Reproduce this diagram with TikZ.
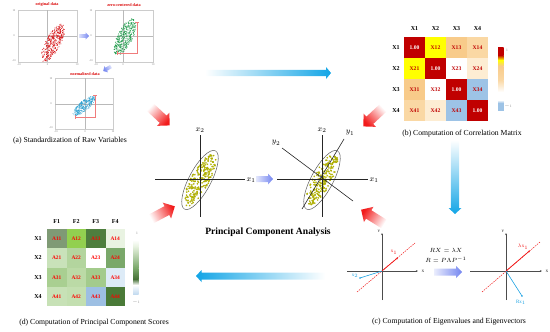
\documentclass[tikz,border=0pt]{standalone}
\usepackage{fontspec}
\setmainfont{Liberation Serif}
\usetikzlibrary{calc,arrows.meta}
\definecolor{cred}{HTML}{D7191C}
\definecolor{cgreen}{HTML}{1E9A4A}
\definecolor{cblue}{HTML}{2A9FD0}
\definecolor{dred}{HTML}{C00000}
\definecolor{ylw}{HTML}{FFFF00}
\definecolor{oraA}{HTML}{F8CB8A}
\definecolor{oraB}{HTML}{FAD8A4}
\definecolor{oraC}{HTML}{FDEDD3}
\definecolor{lblue}{HTML}{9DC3E6}
\definecolor{gA}{HTML}{7F9A75}
\definecolor{gB}{HTML}{92D050}
\definecolor{gC}{HTML}{4E7E3E}
\definecolor{gD}{HTML}{E9F3E2}
\definecolor{gE}{HTML}{C9E2BA}
\definecolor{gF}{HTML}{B3D59E}
\definecolor{gG}{HTML}{7AA86A}
\definecolor{gH}{HTML}{A9CF91}
\definecolor{gI}{HTML}{BBDAA6}
\definecolor{gJ}{HTML}{A3CB8C}
\definecolor{gK}{HTML}{DDEBF7}
\definecolor{gL}{HTML}{C7E1B6}
\definecolor{gM}{HTML}{C3DFB0}
\definecolor{gN}{HTML}{9DBFE3}
\definecolor{gO}{HTML}{4A7A38}
\definecolor{arrblue}{HTML}{12A5E6}
\definecolor{arrviolet}{HTML}{7385F0}
\definecolor{arrred}{HTML}{F21B1B}
\definecolor{eblue}{HTML}{1BA1E2}
\definecolor{ered}{HTML}{F01818}
\definecolor{pyel}{HTML}{E2E200}
\definecolor{polive}{HTML}{8F8F00}
\definecolor{brkred}{HTML}{F07C7C}

% gradient block arrow: x, y (tail), angle, length, shaft half width, head half width, head length, colour, start colour
\newcommand\gradarrow[9]{%
  \begin{scope}[shift={(#1,#2)},rotate=#3]
    \shade[top color=#8, bottom color=#9, shading angle={#3-90}]
      (0,-#5) -- ({#4-#7},-#5) -- ({#4-#7},-#6) -- (#4,0) -- ({#4-#7},#6) -- ({#4-#7},#5) -- (0,#5) -- cycle;
  \end{scope}}
% cloud of points: cx, cy, angle, a, b, n, colour, radius
\newcommand\pcloud[8]{%
  \begin{scope}[shift={(#1,#2)},rotate=#3]
    \foreach \i in {1,...,#6}{%
      \pgfmathsetmacro\cRr{sqrt(rnd)}%
      \pgfmathsetmacro\cAng{360*rnd}%
      \fill[#7] ({#4*\cRr*cos(\cAng)},{#5*\cRr*sin(\cAng)}) circle[radius=#8];}
  \end{scope}}
\newcommand\ycloud[5]{%
  \begin{scope}[shift={(#1,#2)},rotate=#3]
    \foreach \i in {1,...,#4}{%
      \pgfmathsetmacro\cRr{sqrt(rnd)}%
      \pgfmathsetmacro\cAng{360*rnd}%
      \filldraw[fill=pyel,draw=polive,line width=0.15pt] ({29*\cRr*cos(\cAng)},{#5*\cRr*sin(\cAng)}) circle[radius=0.75pt];}
  \end{scope}}

\begin{document}
\begin{tikzpicture}[x=1pt,y=-1pt,
  capt/.style={font=\fontsize{7.7}{9}\selectfont, inner sep=0},
  mlab/.style={font=\fontsize{6}{7}\selectfont\bfseries, inner sep=0},
  cellb/.style={minimum width=21pt, minimum height=21pt, inner sep=0, font=\fontsize{5.6}{6}\selectfont\bfseries, text=dred},
  celld/.style={minimum width=19.5pt, minimum height=19.3pt, inner sep=0, font=\fontsize{5.4}{6}\selectfont\bfseries, text=red},
  ticklab/.style={font=\fontsize{2.8}{3}\selectfont, text=gray, inner sep=0},
  ptitle/.style={font=\fontsize{4.2}{5}\selectfont\bfseries, text=red!85!black, inner sep=0},
  axl/.style={font=\fontsize{8}{9}\selectfont, inner sep=0},
  cbl/.style={font=\fontsize{3.6}{4}\selectfont, text=gray, inner sep=0},
  pframe/.style={draw=gray!40, line width=0.4pt},
  pax/.style={draw=gray!55, line width=0.5pt},
  brk/.style={draw=brkred, line width=0.5pt},
  pcaax/.style={draw=black!85, line width=0.6pt},
  eax/.style={draw=black!70, line width=0.6pt, -{Stealth[length=2.2pt,width=1.8pt]}},
  elab/.style={font=\fontsize{5}{6}\selectfont, inner sep=0},
]
\useasboundingbox (0,0) rectangle (550,332);
\pgfmathsetseed{7}

% ---------------- (a) scatter plots ----------------
\node[ptitle] (t1) at (47,5) {original data};
\draw[pframe] (18,10) rectangle (77,62);
\draw[pax] (47.5,10) -- (47.5,62) (18,36) -- (77,36);
\pcloud{53}{43}{62}{21}{7.5}{380}{cred}{0.5pt}
\node[ticklab] (l1a) at (14,11) {10};
\node[ticklab] (l1b) at (14,36) {0};
\node[ticklab] (l1c) at (14,61) {-10};
\node[ticklab] (l1d) at (19,65) {-10};
\node[ticklab] (l1e) at (47.5,65) {0};
\node[ticklab] (l1f) at (77,65) {10};

\node[ptitle] (t2) at (124,5) {zero-centered data};
\draw[pframe] (95,10) rectangle (153,62);
\draw[pax] (123,10) -- (123,62) (95,36) -- (153,36);
\pcloud{125}{37}{64}{20}{7.5}{380}{cgreen}{0.5pt}
\draw[brk] (137,22) -- (137,53) -- (117,53);
\draw[brk] (135,22) -- (139,22) (117,51) -- (117,55);
\node[ticklab] (l2a) at (91,11) {10};
\node[ticklab] (l2b) at (91,36) {0};
\node[ticklab] (l2c) at (91,61) {-10};
\node[ticklab] (l2d) at (96,65) {-10};
\node[ticklab] (l2e) at (123,65) {0};
\node[ticklab] (l2f) at (153,65) {10};

\node[ptitle] (t3) at (85,74) {normalized data};
\draw[pframe] (55,78) rectangle (113,129);
\draw[pax] (85,78) -- (85,129) (55,104) -- (113,104);
\pcloud{84}{106}{40}{14}{5}{320}{cblue}{0.45pt}
\draw[brk] (95,95) -- (95,117) -- (75,117);
\draw[brk] (93,95) -- (97,95) (75,115) -- (75,119);
\node[ticklab] (l3a) at (51,79) {10};
\node[ticklab] (l3b) at (51,104) {0};
\node[ticklab] (l3c) at (51,128) {-10};
\node[ticklab] (l3d) at (56,132) {-10};
\node[ticklab] (l3e) at (85,132) {0};
\node[ticklab] (l3f) at (113,132) {10};

\gradarrow{79}{36}{0}{10}{1.8}{3.6}{3.5}{arrviolet}{arrviolet!25}
\gradarrow{111}{66.5}{-150}{9}{1.8}{3.6}{3.5}{arrviolet}{arrviolet!25}

\node[capt] (capa) at (70,141) {(a) Standardization of Raw Variables};

% ---------------- (b) correlation matrix ----------------
\foreach \c/\x in {1/414.5,2/435.5,3/456.5,4/477.5}
  \node[mlab] (bh\c) at (\x,29) {X\c};
\foreach \r/\y in {1/47.5,2/68.5,3/89.5,4/110.5}
  \node[mlab] (br\r) at (396,\y) {X\r};
\foreach \r/\c/\col/\txt/\tc in {
  1/1/dred/1.00/white, 1/2/ylw/X12/dred, 1/3/oraA/X13/dred, 1/4/oraB/X14/dred,
  2/1/ylw/X21/dred, 2/2/dred/1.00/white, 2/3/white/X23/dred, 2/4/oraC/X24/dred,
  3/1/oraA/X31/dred, 3/2/white/X32/dred, 3/3/dred/1.00/white, 3/4/lblue/X34/dred,
  4/1/oraB/X41/dred, 4/2/oraC/X42/dred, 4/3/lblue/X43/dred, 4/4/dred/1.00/white}
  \node[cellb, fill=\col, text=\tc] (b\r\c) at ({404+21*\c-10.5},{37+21*\r-10.5}) {\txt};
% colour bar
\shade[top color=dred, bottom color=dred] (498,47) rectangle (503.5,55);
\shade[top color=dred, bottom color=ylw] (498,55) rectangle (503.5,60);
\shade[top color=ylw, bottom color=oraA] (498,60) rectangle (503.5,66);
\shade[top color=oraA, bottom color=oraB] (498,66) rectangle (503.5,80);
\shade[top color=oraB, bottom color=white] (498,80) rectangle (503.5,92);
\fill[white] (498,92) rectangle (503.5,100);
\shade[top color=white, bottom color=lblue] (498,100) rectangle (503.5,103);
\fill[lblue] (498,103) rectangle (503.5,111);
\node[cbl] (cb1) at (507,50) {1};
\node[cbl] (cb2) at (508,106) {$-$1};
\node[capt] (capb) at (462,134) {(b) Computation of Correlation Matrix};

% ---------------- (d) principal component scores ----------------
\foreach \c/\x in {1/56.75,2/76.25,3/95.75,4/115.25}
  \node[mlab] (dh\c) at (\x,222) {F\c};
\foreach \r/\y in {1/238.6,2/257.9,3/277.2,4/296.4}
  \node[mlab] (dr\r) at (38,\y) {X\r};
\foreach \r/\c/\col in {
  1/1/gA, 1/2/gB, 1/3/gC, 1/4/gD,
  2/1/gE, 2/2/gF, 2/3/white, 2/4/gG,
  3/1/gH, 3/2/gI, 3/3/gJ, 3/4/gK,
  4/1/gL, 4/2/gM, 4/3/gN, 4/4/gO}
  \node[celld, fill=\col] (d\r\c) at ({47+19.5*\c-9.75},{229+19.3*\r-9.65}) {A\r\c};
\shade[top color=white, bottom color=gD] (133,240) rectangle (138.5,246);
\shade[top color=gD, bottom color=gG] (133,246) rectangle (138.5,268);
\shade[top color=gG, bottom color=gC!90!black] (133,268) rectangle (138.5,279);
\shade[top color=gC!90!black, bottom color=white] (133,279) rectangle (138.5,285);
\shade[top color=white, bottom color=gK!60!lblue] (133,285) rectangle (138.5,294);
\node[cbl] (cd1) at (137,233) {1};
\node[cbl] (cd2) at (136,302) {$-$1};
\node[capt] (capd) at (94,323) {(d) Computation of Principal Component Scores};

% ---------------- centre: PCA ----------------
\draw[gray!70!black, line width=0.5pt, rotate around={62:(200,180)}] (200,180) ellipse [x radius=33, y radius=11];
\ycloud{200}{180}{62}{220}{9}
\draw[pcaax] (155,179) -- (245,179) (200,135) -- (200,217);
\node[axl] (x1a) at (251,180) {$x_1$};
\node[axl] (x2a) at (200,130) {$x_2$};

\gradarrow{256}{179}{0}{17}{3}{5.5}{5}{arrviolet}{arrviolet!20}

\draw[gray!70!black, line width=0.5pt, rotate around={62:(322,180)}] (322,180) ellipse [x radius=33, y radius=11];
\ycloud{322}{180}{62}{220}{9}
\draw[pcaax] (277,179) -- (368,179) (322,135) -- (322,217);
\draw[pcaax] (302,209) -- (344,139);
\draw[pcaax] (282,148) -- (353,201);
\node[axl] (x1b) at (374,180) {$x_1$};
\node[axl] (x2b) at (322,130) {$x_2$};
\node[axl] (y1b) at (350,133) {$y_1$};
\node[axl] (y2b) at (276,143) {$y_2$};

\node[font=\fontsize{9.6}{11}\selectfont\bfseries, inner sep=0] (pca) at (268,232) {Principal Component Analysis};

% ---------------- (c) eigen ----------------
\coordinate (oL) at (382,271);
\draw[eax] (382,300) -- (382,233);
\draw[eax] (347,271) -- (418,271);
\node[elab, font=\fontsize{3.6}{4}\selectfont] (yL) at (379,231) {Y};
\node[elab, font=\fontsize{3.6}{4}\selectfont] (xL) at (423,271) {X};
\draw[ered, line width=0.5pt, dash pattern=on 1.5pt off 1pt] (357,292) -- (415,243);
\draw[ered, line width=0.7pt, -{Stealth[length=2.2pt,width=2pt]}] (oL) -- (398,257.5);
\node[elab, text=ered] (x1L) at (394,252.5) {x$_1$};
\draw[eblue, line width=0.6pt] (oL) -- (360,278);
\fill[eblue] (360,278) circle[radius=0.8pt];
\node[elab, text=eblue] (x2L) at (355,276) {x$_2$};

\node[elab, font=\fontsize{5.8}{7}\selectfont] (eq1) at (446,250) {$RX=\lambda X$};
\node[elab, font=\fontsize{5.8}{7}\selectfont] (eq2) at (446,260) {$R=P\Lambda P^{-1}$};
\gradarrow{434}{272}{0}{28}{3.5}{6}{6}{arrviolet}{arrviolet!15}

\coordinate (oR) at (506,271);
\draw[eax] (506,300) -- (506,233);
\draw[eax] (470,271) -- (542,271);
\node[elab, font=\fontsize{3.6}{4}\selectfont] (yR) at (503,231) {Y};
\node[elab, font=\fontsize{3.6}{4}\selectfont] (xR) at (547,271) {X};
\draw[ered, line width=0.5pt, dash pattern=on 1.5pt off 1pt] (482,292) -- (540,242);
\draw[ered, line width=0.7pt, -{Stealth[length=2.2pt,width=2pt]}] (oR) -- (530,250.5);
\node[elab, text=ered] (lx1R) at (523,247) {$\lambda$x$_1$};
\draw[eblue, line width=0.6pt] (oR) -- (522,296);
\fill[eblue] (522,296) circle[radius=0.8pt];
\node[elab, text=eblue] (rx1R) at (521,302.5) {Rx$_1$};

\node[capt] (capc) at (449,322) {(c) Computation of Eigenvalues and Eigenvectors};

% ---------------- big arrows ----------------
\gradarrow{205}{73}{0}{126}{3.2}{6}{5}{arrblue}{white}
\gradarrow{455}{140}{-90}{74}{4.2}{6.5}{6}{arrblue}{white}
\gradarrow{325}{276}{180}{129}{3.5}{6}{5.5}{arrblue}{white}

\gradarrow{150}{107}{-43}{27}{5}{9}{9}{arrred}{white}
\gradarrow{383}{108}{-137}{27}{5}{9}{9}{arrred}{white}
\gradarrow{151}{219}{28}{27}{5}{9}{9}{arrred}{white}
\gradarrow{384}{224}{148}{27}{5}{9}{9}{arrred}{white}
\end{tikzpicture}
\end{document}
